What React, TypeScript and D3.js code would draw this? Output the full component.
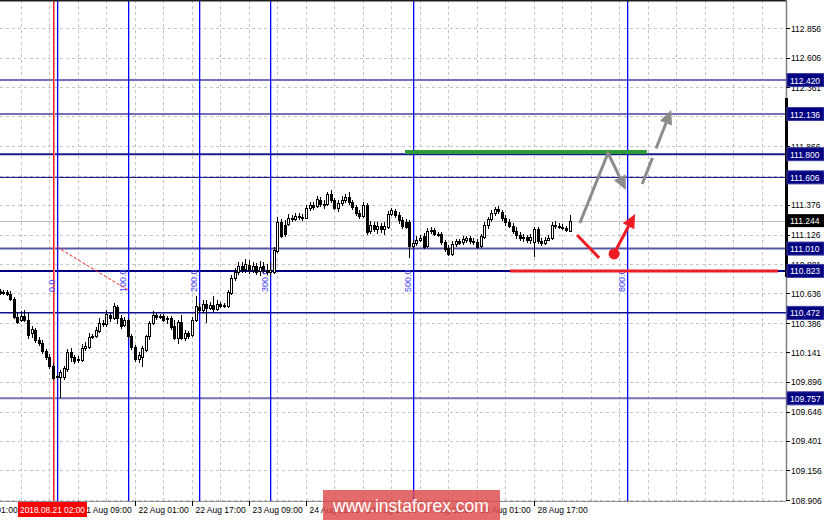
import React from 'react';
import * as d3 from 'd3';

// ---------- data ----------
const FIRST_BAR = -15; // bar index relative to 2018.08.21 02:00 (H1)

const OPEN = [110.655, 110.639, 110.647, 110.630, 110.589, 110.438, 110.413, 110.446, 110.413, 110.304, 110.329, 110.245, 110.220, 110.153, 110.103,
  110.028, 109.935, 109.935, 109.935, 110.002, 110.145, 110.103, 110.078, 110.078, 110.178, 110.187, 110.270, 110.279, 110.320, 110.387,
  110.379, 110.455, 110.429, 110.522, 110.429, 110.371, 110.413, 110.279, 110.187, 110.086, 110.103, 110.162, 110.279, 110.387, 110.455,
  110.438, 110.446, 110.421, 110.429, 110.362, 110.262, 110.396, 110.262, 110.304, 110.287, 110.413, 110.522, 110.496, 110.547, 110.513,
  110.538, 110.505, 110.547, 110.530, 110.530, 110.639, 110.764, 110.814, 110.865, 110.840, 110.873, 110.831, 110.865, 110.823, 110.865,
  110.831, 110.814, 110.814, 110.990, 111.233, 111.208, 111.216, 111.266, 111.258, 111.283, 111.275, 111.266, 111.350, 111.375, 111.367,
  111.417, 111.384, 111.384, 111.467, 111.417, 111.350, 111.392, 111.417, 111.442, 111.400, 111.358, 111.308, 111.283, 111.375, 111.157,
  111.208, 111.174, 111.199, 111.174, 111.191, 111.300, 111.325, 111.291, 111.250, 111.233, 111.233, 111.032, 111.057, 111.082, 111.116,
  111.032, 111.157, 111.166, 111.132, 111.132, 111.066, 111.015, 110.965, 111.049, 111.074, 111.066, 111.082, 111.099, 111.074, 111.066,
  111.032, 111.107, 111.208, 111.258, 111.308, 111.342, 111.317, 111.266, 111.233, 111.199, 111.157, 111.124, 111.099, 111.107, 111.082,
  111.066, 111.174, 111.074, 111.057, 111.082, 111.099, 111.208, 111.199, 111.191, 111.183, 111.157];

const HIGH = [110.672, 110.664, 110.664, 110.655, 110.605, 110.471, 110.488, 110.496, 110.480, 110.362, 110.346, 110.270, 110.245, 110.170, 110.128,
  110.053, 109.961, 109.994, 110.028, 110.170, 110.178, 110.120, 110.111, 110.212, 110.229, 110.304, 110.295, 110.354, 110.429, 110.413,
  110.496, 110.471, 110.555, 110.538, 110.455, 110.438, 110.429, 110.295, 110.203, 110.145, 110.195, 110.287, 110.404, 110.488, 110.471,
  110.463, 110.463, 110.446, 110.446, 110.413, 110.413, 110.455, 110.329, 110.320, 110.438, 110.614, 110.555, 110.580, 110.580, 110.563,
  110.614, 110.580, 110.563, 110.555, 110.664, 110.789, 110.848, 110.898, 110.898, 110.923, 110.915, 110.898, 110.890, 110.907, 110.898,
  110.881, 110.898, 111.024, 111.275, 111.258, 111.250, 111.300, 111.291, 111.308, 111.308, 111.300, 111.375, 111.400, 111.400, 111.450,
  111.442, 111.417, 111.484, 111.500, 111.434, 111.417, 111.450, 111.467, 111.484, 111.417, 111.375, 111.333, 111.400, 111.392, 111.241,
  111.233, 111.233, 111.224, 111.233, 111.325, 111.350, 111.342, 111.317, 111.275, 111.258, 111.250, 111.082, 111.116, 111.124, 111.141,
  111.183, 111.191, 111.183, 111.149, 111.149, 111.082, 111.040, 111.074, 111.091, 111.091, 111.116, 111.116, 111.116, 111.099, 111.091,
  111.132, 111.233, 111.275, 111.333, 111.358, 111.367, 111.333, 111.291, 111.258, 111.224, 111.191, 111.149, 111.132, 111.124, 111.132,
  111.191, 111.191, 111.099, 111.107, 111.124, 111.233, 111.241, 111.224, 111.216, 111.199, 111.291];

const LOW = [110.622, 110.622, 110.614, 110.572, 110.421, 110.379, 110.396, 110.396, 110.254, 110.262, 110.220, 110.195, 110.128, 110.078, 110.002,
  109.911, 109.919, 109.760, 109.911, 109.977, 110.061, 110.044, 110.053, 110.061, 110.153, 110.170, 110.254, 110.262, 110.304, 110.354,
  110.354, 110.396, 110.413, 110.379, 110.337, 110.354, 110.254, 110.162, 110.061, 110.053, 110.019, 110.145, 110.245, 110.371, 110.413,
  110.421, 110.396, 110.379, 110.329, 110.245, 110.212, 110.245, 110.237, 110.254, 110.270, 110.396, 110.471, 110.471, 110.387, 110.496,
  110.480, 110.488, 110.513, 110.513, 110.513, 110.622, 110.739, 110.789, 110.806, 110.806, 110.798, 110.806, 110.789, 110.781, 110.806,
  110.789, 110.781, 110.798, 110.973, 111.099, 111.107, 111.199, 111.233, 111.241, 111.250, 111.241, 111.258, 111.325, 111.333, 111.350,
  111.358, 111.342, 111.367, 111.392, 111.333, 111.317, 111.367, 111.392, 111.375, 111.333, 111.283, 111.258, 111.266, 111.124, 111.132,
  111.149, 111.132, 111.141, 111.124, 111.174, 111.283, 111.266, 111.216, 111.174, 111.174, 110.932, 111.007, 111.032, 111.066, 111.007,
  111.015, 111.132, 111.116, 111.107, 111.040, 110.982, 110.948, 110.948, 111.024, 111.040, 111.040, 111.057, 111.049, 111.040, 111.007,
  111.015, 111.091, 111.174, 111.233, 111.283, 111.300, 111.241, 111.199, 111.183, 111.132, 111.091, 111.074, 111.066, 111.057, 111.049,
  110.940, 111.049, 111.032, 111.040, 111.074, 111.082, 111.174, 111.174, 111.166, 111.149, 111.149];

const CLOSE = [110.639, 110.647, 110.630, 110.589, 110.438, 110.396, 110.446, 110.413, 110.287, 110.337, 110.245, 110.220, 110.153, 110.103, 110.028,
  109.927, 109.944, 109.977, 110.011, 110.145, 110.103, 110.069, 110.086, 110.178, 110.195, 110.270, 110.279, 110.329, 110.387, 110.379,
  110.463, 110.429, 110.530, 110.429, 110.362, 110.413, 110.279, 110.187, 110.086, 110.120, 110.178, 110.279, 110.387, 110.455, 110.438,
  110.446, 110.413, 110.429, 110.354, 110.262, 110.396, 110.262, 110.304, 110.279, 110.413, 110.530, 110.496, 110.547, 110.513, 110.538,
  110.505, 110.547, 110.530, 110.538, 110.647, 110.764, 110.814, 110.865, 110.831, 110.881, 110.831, 110.865, 110.814, 110.856, 110.831,
  110.814, 110.831, 110.998, 111.233, 111.116, 111.132, 111.266, 111.258, 111.283, 111.275, 111.266, 111.350, 111.375, 111.358, 111.425,
  111.384, 111.375, 111.467, 111.417, 111.350, 111.392, 111.417, 111.442, 111.400, 111.358, 111.308, 111.283, 111.375, 111.149, 111.208,
  111.174, 111.199, 111.174, 111.199, 111.300, 111.333, 111.291, 111.250, 111.199, 111.191, 111.032, 111.057, 111.082, 111.099, 111.024,
  111.157, 111.166, 111.132, 111.124, 111.066, 111.007, 110.965, 111.049, 111.074, 111.057, 111.091, 111.099, 111.074, 111.066, 111.024,
  111.116, 111.208, 111.258, 111.308, 111.342, 111.325, 111.266, 111.233, 111.199, 111.157, 111.124, 111.099, 111.107, 111.082, 111.107,
  111.174, 111.074, 111.057, 111.082, 111.099, 111.208, 111.199, 111.191, 111.183, 111.166, 111.244];

const PRICE_TICKS = [112.856, 112.606, 112.361, 112.116, 111.866, 111.621, 111.376, 111.126, 110.881, 110.636, 110.386, 110.141, 109.896, 109.646, 109.401, 109.156, 108.906];

const LEVELS = [112.420, 112.136, 111.800, 111.606, 111.010, 110.823, 110.472, 109.757];
const BID = 111.244;

const TIME_LABELS = ['20 Aug 01:00', '21 Aug 09:00', '22 Aug 01:00', '22 Aug 17:00', '23 Aug 09:00', '24 Aug 01:00', '24 Aug 17:00', '27 Aug 09:00', '28 Aug 01:00', '28 Aug 17:00'];
const TIME_LABEL_BARS = [-25, 7, 23, 39, 55, 71, 87, 103, 119, 135];
const GRID_BAR_START = -9;
const GRID_BAR_STEP = 8;

const MARKED_TIME = '2018.08.21 02:00';
const MARKED_BAR = 0;

const FIB_START_BAR = 1;
const FIB_UNIT_BARS = 20;
const FIB_ZONES = [0, 1, 2, 3, 5, 8];
const FIB_LABELS = ['0.0', '100.0', '200.0', '300.0', '500.0', '800.0'];
const FIB_TREND: [number, number][] = [[1.1, 111.023], [21, 110.664]];

const GREEN_LINE: [number, number][] = [[98.8, 111.818], [166.7, 111.818]];
const RED_LINE: [number, number][] = [[128.3, 110.823], [203.5, 110.823]];
const RED_SEG: [number, number][] = [[147.1, 111.124], [153.3, 110.932]];
const RED_DOT: [number, number] = [157.5, 110.965];
const RED_ARROW: [number, number][] = [[158.0, 110.998], [163.4, 111.300]];
const GRAY_ZIGZAG: [number, number][] = [[147.9, 111.224], [155.8, 111.810], [160.8, 111.500]];
const GRAY_DASHED: [number, number][] = [[165.4, 111.551], [173.5, 112.170]];

const RANGE_BAR = [112.270, 110.773];
const WATERMARK = 'www.instaforex.com';

// ---------- layout ----------
const W = 824, H = 520;
const PLOT_R = 786, PLOT_B = 501;
const FONT = '"Liberation Sans", Arial, sans-serif';
const FS = 8.5;

const x = d3.scaleLinear().domain([-14.877, 205.75]).range([0, PLOT_R]);
const y = d3.scaleLinear().domain([108.906, 112.856]).range([500, 28]);

const levelStroke = ['#7272b4', '#7272b4', '#1c1c86', '#000080', '#5656a6', '#000080', '#10108a', '#7272b4'];
const levelWidth = [2, 2, 2, 1, 2, 2, 1.5, 2];

function arrowHead(p0: [number, number], p1: [number, number], len = 14, half = 6.5) {
  const dx = p1[0] - p0[0], dy = p1[1] - p0[1];
  const d = Math.hypot(dx, dy);
  const ux = dx / d, uy = dy / d;
  const bx = p1[0] - ux * len, by = p1[1] - uy * len;
  const px = -uy, py = ux;
  return {
    base: [bx, by] as [number, number],
    path: `M${p1[0]},${p1[1]}L${bx + px * half},${by + py * half}L${bx - px * half},${by - py * half}Z`,
  };
}

const pt = (d: [number, number]): [number, number] => [x(d[0]), y(d[1])];

export default function App() {
  const crisp = Math.round;
  const bars = OPEN.map((o, k) => {
    const i = FIRST_BAR + k;
    const cx = crisp(x(i));
    const c = CLOSE[k];
    const bull = c >= o;
    const yt = crisp(y(Math.max(o, c)));
    const yb = crisp(y(Math.min(o, c)));
    return { cx, bull, yt, yb, yh: y(HIGH[k]), yl: y(LOW[k]) };
  });

  const gridBars: number[] = [];
  for (let b = GRID_BAR_START; x(b) < PLOT_R; b += GRID_BAR_STEP) gridBars.push(b);

  const zz = GRAY_ZIGZAG.map(pt);
  const zzHead = arrowHead(zz[1], zz[2]);
  const gd = GRAY_DASHED.map(pt);
  const gdHead = arrowHead(gd[0], gd[1]);
  const ra = RED_ARROW.map(pt);
  const raHead = arrowHead(ra[0], ra[1]);
  const line = d3.line<[number, number]>();
  const mx = crisp(x(MARKED_BAR));

  return (
    <svg width={W} height={H} style={{ position: 'absolute', left: 0, top: 0, background: '#fff' }} fontFamily={FONT}>
      <rect x={0} y={0} width={W} height={H} fill="#fff" />
      {/* grid */}
      <g stroke="#c4c4c4" strokeDasharray="3,3" shapeRendering="crispEdges">
        {gridBars.map((b) => (
          <line key={'gv' + b} x1={crisp(x(b)) + 0.5} x2={crisp(x(b)) + 0.5} y1={0} y2={PLOT_B} />
        ))}
        {PRICE_TICKS.map((t) => (
          <line key={'gh' + t} x1={0} x2={PLOT_R} y1={crisp(y(t)) + 0.5} y2={crisp(y(t)) + 0.5} />
        ))}
      </g>

      {/* level lines */}
      {LEVELS.map((l, k) => (
        <line key={'lv' + l} x1={0} x2={PLOT_R} y1={y(l)} y2={y(l)} stroke={levelStroke[k]} strokeWidth={levelWidth[k]} />
      ))}
      <line x1={0} x2={PLOT_R} y1={crisp(y(BID)) + 0.5} y2={crisp(y(BID)) + 0.5} stroke="#c0c0c0" strokeWidth={1} />

      {/* marked time + fib time zones */}
      <rect x={mx} y={0} width={1} height={PLOT_B} fill="#ff2020" />
      <rect x={mx + 1} y={0} width={1} height={PLOT_B} fill="#ff8080" />
      {FIB_ZONES.map((z, k) => {
        const fx = crisp(x(FIB_START_BAR + z * FIB_UNIT_BARS));
        return (
          <g key={'fz' + z}>
            <rect x={fx} y={0} width={1} height={PLOT_B} fill="#0000ff" />
            <rect x={fx + 1} y={0} width={1} height={PLOT_B} fill="#0000ff" opacity={0.3} />
            <text transform={`translate(${fx - 2},292) rotate(-90)`} fontSize={9} fill="#4646ff">{FIB_LABELS[k]}</text>
          </g>
        );
      })}
      <path d={line(FIB_TREND.map(pt)) || ''} stroke="#ff2020" strokeWidth={1} strokeDasharray="3,2" fill="none" />

      {/* candles */}
      <g shapeRendering="crispEdges">
        {bars.map((b, k) => (
          <g key={'c' + k}>
            <line x1={b.cx + 0.5} x2={b.cx + 0.5} y1={b.yh} y2={b.yl} stroke="#000" strokeWidth={1} />
            <rect x={b.cx - 0.5} y={b.yt + 0.5} width={2} height={Math.max(0, b.yb - b.yt)} fill={b.bull ? '#fff' : '#000'} stroke="#000" strokeWidth={1} />
          </g>
        ))}
      </g>

      {/* drawn annotations */}
      <path d={line(GREEN_LINE.map(pt)) || ''} stroke="#2f9a3a" strokeWidth={4} fill="none" />
      <path d={line(RED_LINE.map(pt)) || ''} stroke="#ee1c24" strokeWidth={3} fill="none" />
      <path d={line(RED_SEG.map(pt)) || ''} stroke="#ee1c24" strokeWidth={3} fill="none" />
      <circle cx={x(RED_DOT[0])} cy={y(RED_DOT[1])} r={5.5} fill="#ee1c24" />
      <path d={line([ra[0], raHead.base]) || ''} stroke="#ee1c24" strokeWidth={3} fill="none" />
      <path d={raHead.path} fill="#ee1c24" />
      <path d={line([zz[0], zz[1], zzHead.base]) || ''} stroke="#8c8c8c" strokeWidth={3} fill="none" strokeLinejoin="miter" />
      <path d={zzHead.path} fill="#8c8c8c" />
      <path d={line([gd[0], gdHead.base]) || ''} stroke="#8c8c8c" strokeWidth={3} fill="none" strokeDasharray="28,10" />
      <path d={gdHead.path} fill="#8c8c8c" />

      {/* frame */}
      <line x1={0} x2={PLOT_R} y1={0.5} y2={0.5} stroke="#202020" strokeWidth={2} />
      <line x1={PLOT_R + 0.5} x2={PLOT_R + 0.5} y1={0} y2={PLOT_B} stroke="#808080" strokeWidth={1.5} />
      <line x1={PLOT_R + 0.5} x2={PLOT_R + 0.5} y1={y(RANGE_BAR[0])} y2={y(RANGE_BAR[1])} stroke="#000" strokeWidth={3} />
      <line x1={0} x2={PLOT_R} y1={PLOT_B + 0.5} y2={PLOT_B + 0.5} stroke="#909090" strokeWidth={1} />

      {/* price axis */}
      {PRICE_TICKS.map((t) => (
        <g key={'pt' + t}>
          <line x1={PLOT_R} x2={PLOT_R + 4} y1={crisp(y(t)) + 0.5} y2={crisp(y(t)) + 0.5} stroke="#000" />
          <text x={791} y={y(t) + 3.5} fontSize={FS} fill="#000">{t.toFixed(3)}</text>
        </g>
      ))}
      {LEVELS.map((l) => (
        <g key={'lb' + l}>
          <rect x={787} y={y(l) - 6.5} width={37} height={13} fill="#000080" stroke="#3b3ba0" strokeWidth={1} />
          <text x={790} y={y(l) + 3.5} fontSize={FS} fill="#fff">{l.toFixed(3)}</text>
        </g>
      ))}
      <rect x={787} y={y(BID) - 6.5} width={37} height={13} fill="#000" />
      <text x={790} y={y(BID) + 3.5} fontSize={FS} fill="#fff">{BID.toFixed(3)}</text>

      {/* time axis */}
      {TIME_LABEL_BARS.map((b, k) => {
        const tx = crisp(x(b)) + 0.5;
        return (
          <g key={'tl' + b}>
            <line x1={tx} x2={tx} y1={PLOT_B} y2={PLOT_B + 5} stroke="#000" />
            <text x={tx + 3} y={513} fontSize={FS} fill="#000">{TIME_LABELS[k]}</text>
          </g>
        );
      })}
      <rect x={18} y={502} width={69} height={15} fill="#ff0000" />
      <text x={20} y={513} fontSize={8.3} fill="#fff" textLength={65} lengthAdjust="spacingAndGlyphs">{MARKED_TIME}</text>

      {/* watermark */}
      <rect x={323} y={490} width={177} height={30} fill="#dd4a4a" opacity={0.82} />
      <text x={411} y={512} fontSize={19} fill="#fff" textAnchor="middle" textLength={156} lengthAdjust="spacingAndGlyphs">{WATERMARK}</text>
    </svg>
  );
}
